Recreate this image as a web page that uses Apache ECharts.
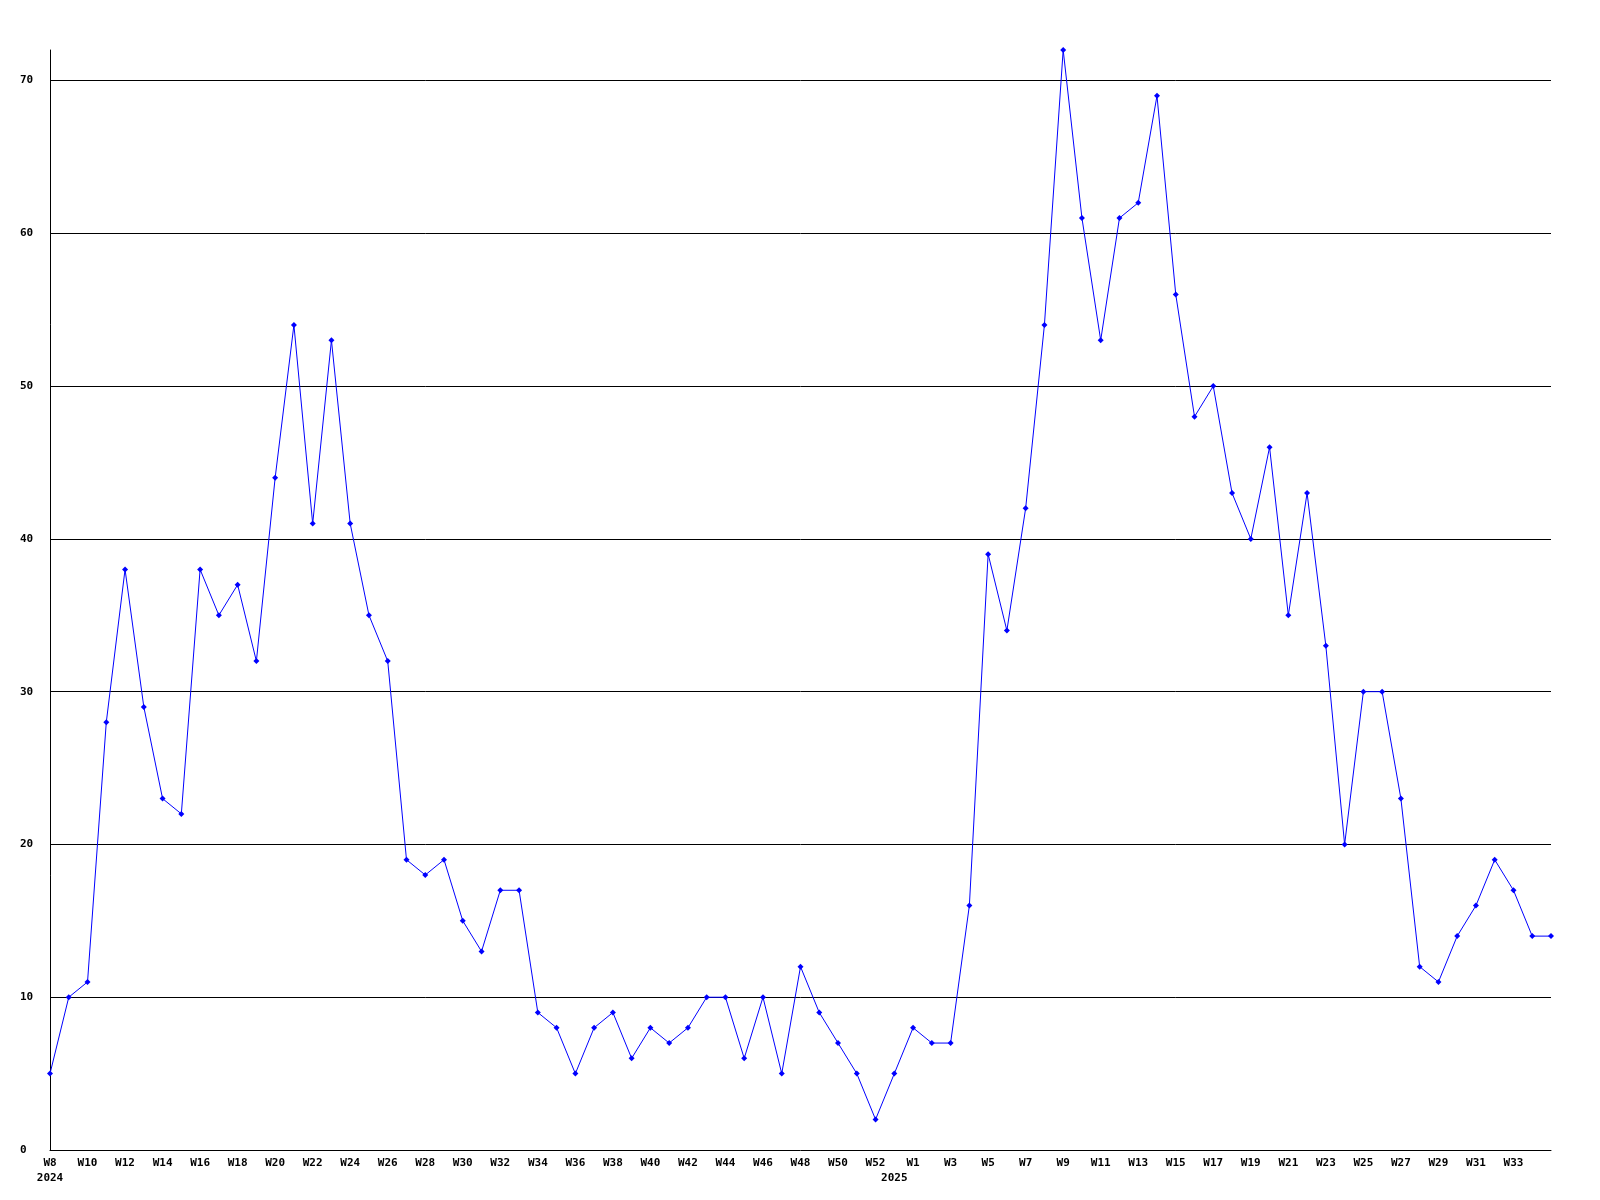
<!DOCTYPE html>
<html>
<head>
<meta charset="utf-8">
<script src="https://cdn.jsdelivr.net/npm/echarts@6/dist/echarts.min.js"></script>
<style>
html,body{margin:0;padding:0;background:#fff;}
#chart{width:1600px;height:1200px;}
</style>
</head>
<body>
<div id="chart"></div>
<script>
// Week labels (2024 W8 .. W52, an extra year-end week, then 2025 W1 .. W35)
const weeks2024 = ["W8","W9","W10","W11","W12","W13","W14","W15","W16","W17","W18","W19","W20","W21","W22","W23","W24","W25","W26","W27","W28","W29","W30","W31","W32","W33","W34","W35","W36","W37","W38","W39","W40","W41","W42","W43","W44","W45","W46","W47","W48","W49","W50","W51","W52","W53"];
const weeks2025 = ["W1","W2","W3","W4","W5","W6","W7","W8","W9","W10","W11","W12","W13","W14","W15","W16","W17","W18","W19","W20","W21","W22","W23","W24","W25","W26","W27","W28","W29","W30","W31","W32","W33","W34","W35"];
const categories = weeks2024.concat(weeks2025);
// Year labels shown under the week labels, keyed by category index
const yearLabels = {0: "2024", 45: "2025"};
// Values
const values = [5,10,11,28,38,29,23,22,38,35,37,32,44,54,41,53,41,35,32,19,18,19,15,13,17,17,9,8,5,8,9,6,8,7,8,10,10,6,10,5,12,9,7,5,2,5,8,7,7,16,39,34,42,54,72,61,53,61,62,69,56,48,50,43,40,46,35,43,33,20,30,30,23,12,11,14,16,19,17,14,14];
const yTicks = [0,10,20,30,40,50,60,70];
const gridValues = [10,20,30,40,50,60,70];

const chart = echarts.init(document.getElementById('chart'), null, {renderer:'canvas'});
const font = '"DejaVu Sans Mono", monospace';
const lastIdx = categories.length - 1;
chart.setOption({
  animation: false,
  backgroundColor: '#ffffff',
  grid: {left: 50, right: 49, top: 50, bottom: 50, containLabel: false},
  xAxis: {
    type: 'category',
    data: categories,
    boundaryGap: false,
    axisLine: {show: true, lineStyle: {color: '#000', width: 1}},
    axisTick: {show: false},
    splitLine: {show: false},
    axisLabel: {
      interval: function(i){ return (i % 2 === 0 && i < lastIdx) || yearLabels[i] !== undefined; },
      formatter: function(v, i){
        let s = (i % 2 === 0 && i < lastIdx) ? v : '';
        if (yearLabels[i] !== undefined) s += '\n' + yearLabels[i];
        return s;
      },
      color: '#000', fontFamily: font, fontWeight: 'bold', fontSize: 11,
      lineHeight: 15, margin: 6, hideOverlap: false
    }
  },
  yAxis: {
    type: 'value',
    min: 0, max: 72, interval: 10,
    axisLine: {show: true, lineStyle: {color: '#000', width: 1}},
    axisTick: {show: false},
    splitLine: {show: false},
    axisLabel: {
      customValues: yTicks,
      align: 'left', margin: 30,
      color: '#000', fontFamily: font, fontWeight: 'bold', fontSize: 11
    }
  },
  series: [{
    type: 'line',
    data: values,
    symbol: 'diamond',
    symbolSize: 6,
    showAllSymbol: true,
    itemStyle: {color: '#0000ff'},
    lineStyle: {color: '#0000ff', width: 1},
    z: 3,
    markLine: {
      silent: true,
      symbol: 'none',
      label: {show: false},
      lineStyle: {color: '#000', width: 1, type: 'solid'},
      z: 1,
      data: gridValues.map(v => ({yAxis: v}))
    }
  }]
});
</script>
</body>
</html>
